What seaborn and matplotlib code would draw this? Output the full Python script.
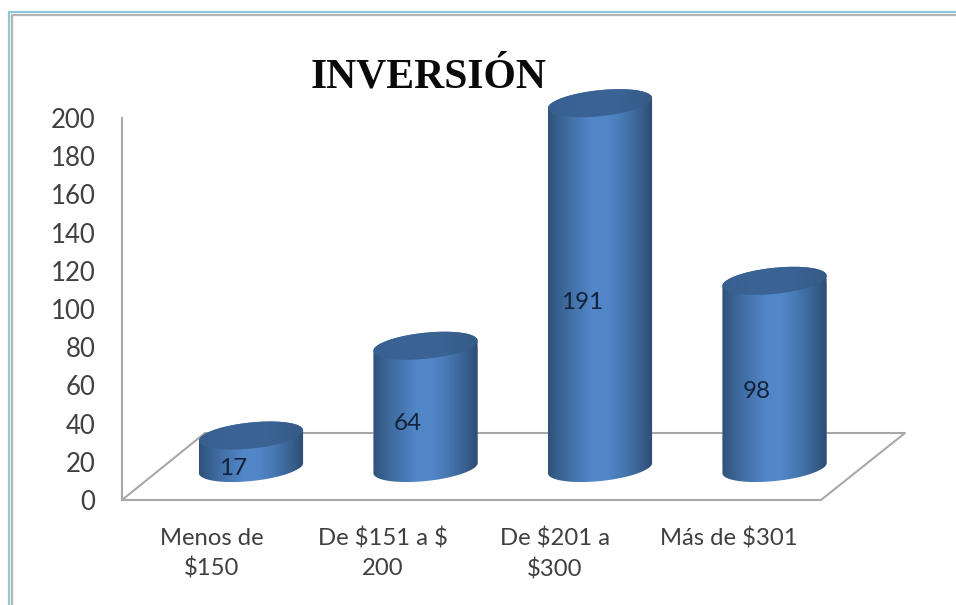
import numpy as np
import pandas as pd
import matplotlib
matplotlib.use("Agg")
import matplotlib.pyplot as plt
from matplotlib.colors import LinearSegmentedColormap
from matplotlib.lines import Line2D
from matplotlib.path import Path
from matplotlib.transforms import ScaledTranslation
import seaborn as sns

# ---- data ----
categories = ["Menos de\n\\$150", "De \\$151 a \\$\n200", "De \\$201 a\n\\$300", "Más de \\$301"]
values = [17, 64, 191, 98]
y_ticks = list(range(0, 201, 20))
title = "INVERSIÓN"

# ---- layout (pixels of the 956x605 figure) ----
W, H = 956, 605
AX_L, AX_R, AX_B, AX_T = 122, 905, 500, 80
PX_PER_UNIT = 1.91
PX_PER_CAT = 174.5
FIRST_CAT_PX = 251
BASE_LIFT = 16.75          # cylinders stand on the floor, behind the front edge
BAR_W = 0.6
ELL_B = 13.0               # minor semi-axis in px
TILT = np.deg2rad(6)
LABEL_SHIFT_PX = [-39, -43, -45, -46]
GRAY = "#a8a8a8"
TEXT = "#404040"

sns.set_theme(style="white")
plt.rcParams["font.family"] = ["Lato", "DejaVu Sans"]

fig = plt.figure(figsize=(W / 100, H / 100), dpi=100, facecolor="white")
ax = fig.add_axes([AX_L / W, 1 - AX_B / H, (AX_R - AX_L) / W, (AX_B - AX_T) / H])
ax.patch.set_alpha(0)

df = pd.DataFrame({"cat": categories, "val": values})
sns.barplot(data=df, x="cat", y="val", ax=ax, width=BAR_W, color="#4a7cba",
            saturation=1, zorder=2)

xlim = ((AX_L - FIRST_CAT_PX) / PX_PER_CAT, (AX_R - FIRST_CAT_PX) / PX_PER_CAT)
ylim = (0, (AX_B - AX_T) / PX_PER_UNIT)

body_cmap = LinearSegmentedColormap.from_list(
    "body", ["#2f527a", "#3d6799", "#4878b3", "#5287c9", "#5186c8", "#4778b2", "#3b6495", "#2d4c72"])
top_cmap = LinearSegmentedColormap.from_list(
    "top", ["#375f90", "#3b6496", "#3a6293", "#355b87"])


def ell_xy(cx, cy, t):
    """Tilted ellipse outline, from pixel offsets converted to data units."""
    a = BAR_W / 2 * PX_PER_CAT
    dx = a * np.cos(t) * np.cos(TILT) - ELL_B * np.sin(t) * np.sin(TILT)
    dy = a * np.cos(t) * np.sin(TILT) + ELL_B * np.sin(t) * np.cos(TILT)
    return np.column_stack([cx + dx / PX_PER_CAT, cy + dy / PX_PER_UNIT])


def shaded(cmap, path, x0, x1, y0, y1, z):
    grad = np.linspace(0, 1, 256).reshape(1, -1)
    im = ax.imshow(grad, cmap=cmap, extent=(x0, x1, y0, y1), aspect="auto",
                   interpolation="bilinear", zorder=z)
    im.set_clip_path(path, ax.transData)


for bar, val in zip(ax.patches, values):
    bar.set_y(BASE_LIFT)
    x0, w = bar.get_x(), bar.get_width()
    cx = x0 + w / 2
    top_y = BASE_LIFT + val
    # lower half of the base ellipse + straight sides + full top edge
    low = ell_xy(cx, BASE_LIFT, np.linspace(np.pi, 2 * np.pi, 60))
    up = ell_xy(cx, top_y, np.linspace(0, np.pi, 60))
    body = Path(np.vstack([low, up, low[:1]]), closed=True)
    bar.set_clip_path(body, ax.transData)
    shaded(body_cmap, body, x0, x0 + w, 0, ylim[1], 3)
    cap = Path(ell_xy(cx, top_y, np.linspace(0, 2 * np.pi, 120)), closed=True)
    shaded(top_cmap, cap, x0, x0 + w, 0, ylim[1], 4)
    ax.text(cx - 0.1, val / 2 + 7.8, str(val), ha="center", va="center",
            fontsize=17.5, color="#14233a", zorder=6)

ax.set_xlim(*xlim)
ax.set_ylim(*ylim)
ax.set_yticks(y_ticks)
ax.set_xlabel("")
ax.set_ylabel("")
sns.despine(ax=ax, top=True, right=True, bottom=True, left=False)
ax.spines["left"].set_bounds(0, 200)
ax.spines["left"].set_color(GRAY)
ax.spines["left"].set_linewidth(1.5)
ax.tick_params(axis="both", length=0)
ax.tick_params(axis="y", labelsize=18.5, labelcolor=TEXT, pad=19)
ax.tick_params(axis="x", labelsize=17.2, labelcolor=TEXT, pad=20)

for lab, shift in zip(ax.get_xticklabels(), LABEL_SHIFT_PX):
    lab.set_linespacing(1.5)
    lab.set_transform(lab.get_transform() + ScaledTranslation(shift / 100, 0, fig.dpi_scale_trans))

# floor parallelogram (axes fractions)
fx = lambda px: (px - AX_L) / (AX_R - AX_L)
fy = lambda py: (AX_B - py) / (AX_B - AX_T)
ax.plot([fx(p) for p in (122, 821, 905, 205, 122)],
        [fy(p) for p in (500, 500, 433, 433, 500)],
        transform=ax.transAxes, color=GRAY, lw=1.5, zorder=1, clip_on=False)

fig.text(429 / W, 1 - 77 / H, title, ha="center", va="center",
         family="Liberation Serif", weight="bold", fontsize=30, color="#0a0a0a")

# picture frame on left and top
for off, col, lw in ((0, "#8fc9dc", 1.6), (3, "#b4b4b4", 1.6)):
    fig.add_artist(Line2D([(8.5 + off) / W, (8.5 + off) / W, 1],
                          [0, 1 - (11.5 + off) / H, 1 - (11.5 + off) / H],
                          transform=fig.transFigure, color=col, lw=lw))

fig.savefig("out.png", dpi=100)
